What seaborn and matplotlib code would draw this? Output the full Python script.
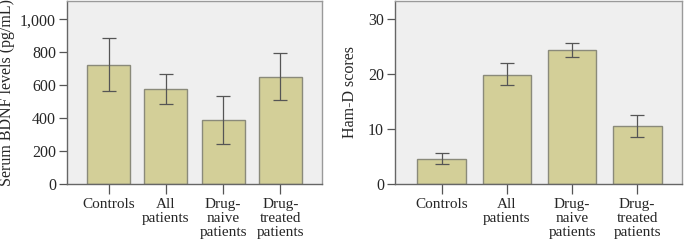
import numpy as np
import pandas as pd
import matplotlib
matplotlib.use("Agg")
import matplotlib.pyplot as plt
import seaborn as sns

# group labels
groups = ["Controls", "All\npatients", "Drug-\nnaive\npatients", "Drug-\ntreated\npatients"]

# serum BDNF (pg/mL): mean and error bar limits
bdnf_mean = [723, 577, 387, 652]
bdnf_low = [565, 488, 241, 510]
bdnf_high = [885, 667, 533, 794]

# Ham-D scores: mean and error bar limits
hamd_mean = [4.6, 19.9, 24.4, 10.5]
hamd_low = [3.7, 18.0, 23.2, 8.6]
hamd_high = [5.6, 22.0, 25.6, 12.5]

sns.set_style("white")
plt.rcParams['font.family'] = ['Liberation Serif', 'DejaVu Serif']
plt.rcParams['font.size'] = 11

bar_color = "#d3cf98"
edge_color = "#8a8a7a"
frame_color = "#9a9a9a"


def draw_panel(ax, means, low, high, ylabel, yticks, ylim, xlim, fmt):
	df = pd.DataFrame({"group": groups, "value": means})
	sns.barplot(data=df, x="group", y="value", color=bar_color, saturation=1,
				width=0.75, edgecolor=edge_color, linewidth=1.0,
				errorbar=None, ax=ax)
	x = np.arange(len(means))
	yerr = [np.array(means) - np.array(low), np.array(high) - np.array(means)]
	ax.errorbar(x, means, yerr=yerr, fmt="none", ecolor="#555555",
				elinewidth=0.9, capsize=5, capthick=0.9)
	ax.set_facecolor("#efefef")
	ax.set_xlim(*xlim)
	ax.set_ylim(*ylim)
	ax.set_yticks(yticks)
	ax.set_yticklabels([fmt(v) for v in yticks])
	ax.set_xlabel("")
	ax.set_ylabel(ylabel, fontsize=11.5)
	for s in ax.spines.values():
		s.set_color(frame_color)
		s.set_linewidth(1.0)
	ax.spines["left"].set_color("#666666")
	ax.spines["bottom"].set_color("#666666")
	ax.tick_params(axis="y", length=6, width=0.9, color="#555555",
				   direction="out", left=True, labelsize=11.5, pad=2)
	ax.tick_params(axis="x", length=7, width=0.9, color="#555555",
				   direction="out", bottom=True, labelsize=11, pad=3)
	for lab in ax.get_xticklabels():
		lab.set_linespacing(1.12)


fig = plt.figure(figsize=(6.85, 2.41), dpi=100)
ax1 = fig.add_axes([67 / 685, 57 / 241, 255 / 685, 183 / 241])
ax2 = fig.add_axes([395 / 685, 57 / 241, 287 / 685, 183 / 241])

draw_panel(ax1, bdnf_mean, bdnf_low, bdnf_high, "Serum BDNF levels (pg/mL)",
		   [0, 200, 400, 600, 800, 1000], (0, 1112), (-0.73, 3.73),
		   lambda v: "{:,}".format(v))
draw_panel(ax2, hamd_mean, hamd_low, hamd_high, "Ham-D scores",
		   [0, 10, 20, 30], (0, 33.3), (-0.72, 3.69),
		   lambda v: str(v))

ax1.yaxis.set_label_coords(-0.204, 0.5)
ax2.yaxis.set_label_coords(-0.129, 0.5)

fig.savefig("out.png", dpi=100)
